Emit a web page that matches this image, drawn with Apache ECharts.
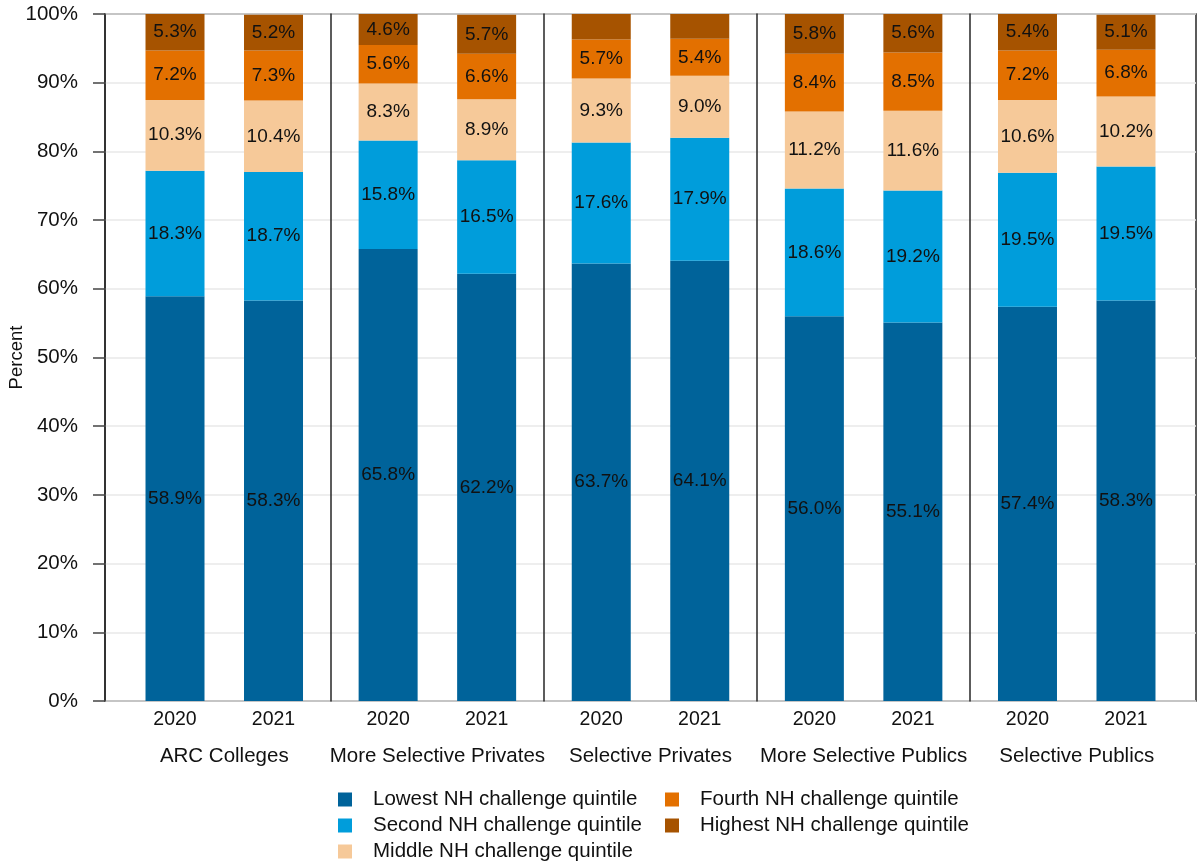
<!DOCTYPE html>
<html>
<head>
<meta charset="utf-8">
<script src="https://cdn.jsdelivr.net/npm/echarts@6/dist/echarts.min.js"></script>
<style>
  html, body { margin: 0; padding: 0; background: #fff; }
  #chart { width: 1198px; height: 861px; }
</style>
</head>
<body>
<div id="chart"></div>
<script>
var groups = ['ARC Colleges', 'More Selective Privates', 'Selective Privates', 'More Selective Publics', 'Selective Publics'];
var years = ['2020', '2021'];
var quintiles = ['Lowest NH challenge quintile', 'Second NH challenge quintile', 'Middle NH challenge quintile',
                 'Fourth NH challenge quintile', 'Highest NH challenge quintile'];
var colors = ['#00639a', '#009ddb', '#f6c999', '#e37000', '#a65300'];

// two values per group: 2020, 2021
var lowest  = [58.9, 58.3, 65.8, 62.2, 63.7, 64.1, 56.0, 55.1, 57.4, 58.3];
var second  = [18.3, 18.7, 15.8, 16.5, 17.6, 17.9, 18.6, 19.2, 19.5, 19.5];
var middle  = [10.3, 10.4, 8.3, 8.9, 9.3, 9.0, 11.2, 11.6, 10.6, 10.2];
var fourth  = [7.2, 7.3, 5.6, 6.6, 5.7, 5.4, 8.4, 8.5, 7.2, 6.8];
var highest = [5.3, 5.2, 4.6, 5.7, 3.7, 3.6, 5.8, 5.6, 5.4, 5.1];
var yTicks = [0, 10, 20, 30, 40, 50, 60, 70, 80, 90, 100];

var values = [lowest, second, middle, fourth, highest];
var font = 'Liberation Sans, Arial, sans-serif';

var plotLeft = 105, plotRight = 1196, plotTop = 14, plotBottom = 701;
var pad = 12.7;
var groupW = (plotRight - plotLeft - 2 * pad) / groups.length;
var innerW = 197;                       // width holding the two bars of a group
var inset = (groupW - innerW) / 2;

var grids = [{
  left: plotLeft, top: plotTop, width: plotRight - plotLeft, height: plotBottom - plotTop,
  outerBoundsMode: 'none', containLabel: false,
  show: true, borderColor: '#262626', borderWidth: 1.5
}];
var xAxes = [{ gridIndex: 0, type: 'value', show: false, min: 0, max: 1 }];
var yAxes = [{
  gridIndex: 0, type: 'value', min: yTicks[0], max: yTicks[yTicks.length - 1], interval: 10,
  name: 'Percent', nameLocation: 'middle', nameRotate: 90, nameGap: 79, nameMoveOverlap: false,
  nameTextStyle: { fontSize: 18.5, color: '#111', fontFamily: font },
  axisLine: { show: true, lineStyle: { color: '#262626', width: 1.5 } },
  axisTick: { show: true, length: 12, lineStyle: { color: '#444', width: 1.5 } },
  axisLabel: { formatter: '{value}%', fontSize: 20.5, color: '#111', fontFamily: font, margin: 27 },
  splitLine: { show: true, lineStyle: { color: '#e9e9e9', width: 1.5 } }
}];
var series = [];

groups.forEach(function (g, gi) {
  var gIdx = gi + 1;
  grids.push({
    left: plotLeft + pad + gi * groupW + inset, top: plotTop, width: innerW, height: plotBottom - plotTop,
    outerBoundsMode: 'none', containLabel: false
  });
  xAxes.push({
    gridIndex: gIdx, type: 'category', data: years,
    axisLine: { show: false }, axisTick: { show: false },
    axisLabel: { fontSize: 19.5, color: '#111', fontFamily: font, margin: 9 },
    name: g, nameLocation: 'middle', nameGap: 45,
    nameTextStyle: { fontSize: 20.5, color: '#111', fontFamily: font }
  });
  // group separator drawn as the axis line, pushed out to the group edge
  yAxes.push({
    gridIndex: gIdx, type: 'value', min: 0, max: 100, offset: inset,
    axisLine: { show: gi > 0, lineStyle: { color: '#262626', width: 1.5 } },
    axisTick: { show: false }, axisLabel: { show: false }, splitLine: { show: false }
  });
  quintiles.forEach(function (q, qi) {
    series.push({
      name: q, type: 'bar', stack: 'g' + gi, xAxisIndex: gIdx, yAxisIndex: gIdx,
      barWidth: 59,
      itemStyle: { color: colors[qi] },
      label: {
        show: true, position: 'inside', fontSize: 19, color: '#111', fontFamily: font,
        formatter: function (p) { return p.value < 4 ? '' : p.value.toFixed(1) + '%'; }
      },
      data: [values[qi][gi * 2], values[qi][gi * 2 + 1]]
    });
  });
});

var legendBase = {
  orient: 'vertical', top: 784, height: 80, itemWidth: 14, itemHeight: 14, itemGap: 5,
  icon: 'rect', selectedMode: false,
  textStyle: { fontSize: 20.5, color: '#111', fontFamily: font, padding: [0, 0, 0, 16] }
};

var chart = echarts.init(document.getElementById('chart'));
chart.setOption({
  animation: false,
  color: colors,
  grid: grids,
  xAxis: xAxes,
  yAxis: yAxes,
  legend: [
    Object.assign({}, legendBase, { left: 333, data: quintiles.slice(0, 3) }),
    Object.assign({}, legendBase, { left: 660, data: quintiles.slice(3) })
  ],
  series: series
});
</script>
</body>
</html>
